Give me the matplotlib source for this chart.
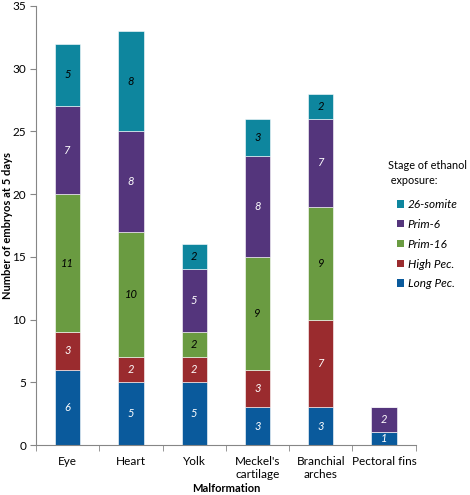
import matplotlib
matplotlib.use('Agg')
import matplotlib.pyplot as plt
import numpy as np
from matplotlib.patches import Patch

plt.rcParams['font.family'] = ['Lato', 'DejaVu Sans']

categories = ['Eye', 'Heart', 'Yolk', "Meckel's\ncartilage", 'Branchial\narches', 'Pectoral fins']
stages = ['Long Pec.', 'High Pec.', 'Prim-16', 'Prim-6', '26-somite']
long_pec = [6, 5, 5, 3, 3, 1]
high_pec = [3, 2, 2, 3, 7, 0]
prim16 = [11, 10, 2, 9, 9, 0]
prim6 = [7, 8, 5, 8, 7, 2]
somite26 = [5, 8, 2, 3, 2, 0]
series = [long_pec, high_pec, prim16, prim6, somite26]

colors = ['#0A5A9C', '#9A2B2E', '#6A9B41', '#54357C', '#0E869E']
text_colors = ['white', 'white', 'black', 'white', 'black']

fig = plt.figure(figsize=(4.7, 4.95), dpi=100)
ax = fig.add_axes([0.0766, 0.101, 0.808, 0.887])

x = np.arange(len(categories))
bottom = np.zeros(len(categories))
for vals, c, tc in zip(series, colors, text_colors):
    vals = np.array(vals, dtype=float)
    ax.bar(x, vals, 0.4, bottom=bottom, color=c, edgecolor='white', linewidth=0.4)
    for xi, v, b in zip(x, vals, bottom):
        if v > 0:
            ax.text(xi, b + v / 2, str(int(v)), ha='center', va='center',
                    fontsize=8, style='italic', color=tc)
    bottom += vals

ax.set_xlim(-0.5, len(categories) - 0.5)
ax.set_ylim(0, 35)
ax.set_yticks(range(0, 36, 5))
ax.set_xticks(x)
ax.set_xticklabels(categories, fontsize=8.5)
ax.set_xticks(np.arange(-0.5, len(categories), 1), minor=True)
ax.tick_params(axis='x', which='major', length=0, pad=8)
ax.tick_params(axis='x', which='minor', length=4, color='#868686')
ax.tick_params(axis='y', labelsize=8.5, length=4, color='#868686', pad=3)
for s in ['top', 'right']:
    ax.spines[s].set_visible(False)
for s in ['left', 'bottom']:
    ax.spines[s].set_color('#868686')

ax.set_ylabel('Number of embryos at 5 days', fontsize=8, fontweight='bold')
ax.yaxis.set_label_coords(-0.06, 0.5)
ax.set_xlabel('Malformation', fontsize=8, fontweight='bold')
ax.xaxis.set_label_coords(0.5, -0.086)

fig.text(0.826, 0.677, 'Stage of ethanol\n exposure:', fontsize=7.8, va='top', ha='left',
         linespacing=1.5)
handles = [Patch(facecolor=c, label=s) for s, c in zip(stages, colors)][::-1]
ax.legend(handles=handles, loc='upper left', bbox_to_anchor=(0.845, 0.598),
          bbox_transform=fig.transFigure, frameon=False,
          prop={'style': 'italic', 'size': 8.5}, handlelength=0.6, handleheight=0.6,
          handletextpad=0.3, labelspacing=0.75, borderaxespad=0, borderpad=0)

fig.savefig('out.png', dpi=100)
